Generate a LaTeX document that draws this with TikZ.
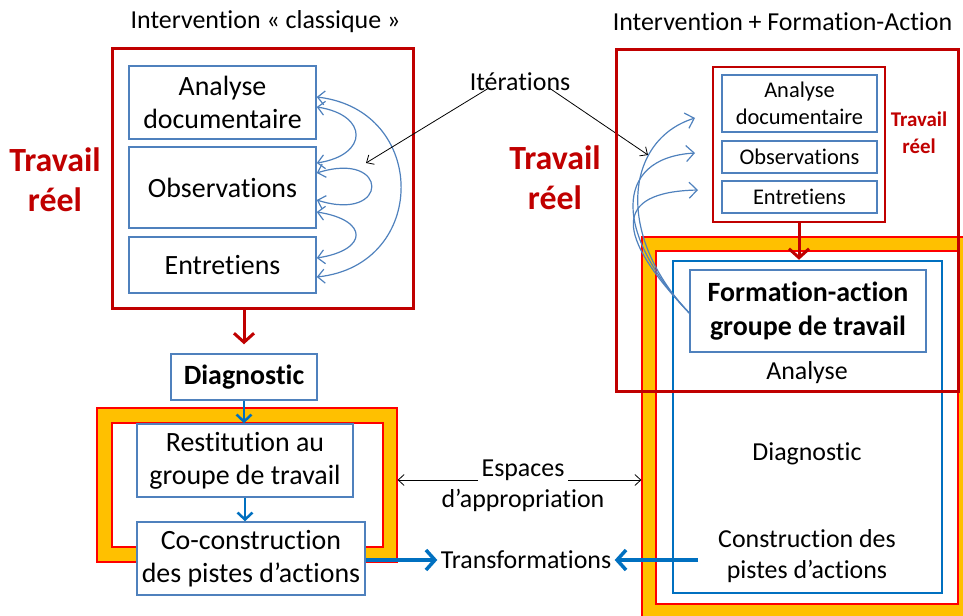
\documentclass[tikz,border=0pt]{standalone}
\usepackage{fontspec}
\setmainfont{Carlito}[Ligatures=NoCommon]
\usetikzlibrary{arrows.meta}
\definecolor{rouge}{HTML}{C00000}
\definecolor{bleu}{HTML}{4F81BD}
\definecolor{bleufonce}{HTML}{0070C0}
\definecolor{jaune}{HTML}{FFC000}
\tikzset{
  boite/.style={draw=bleu,line width=1.5bp,fill=white,align=center,inner sep=0pt},
  grand/.style={font=\fontsize{28}{33}\selectfont},
  moyen/.style={font=\fontsize{26}{31}\selectfont,align=center},
  petit/.style={font=\fontsize{22.5}{27}\selectfont},
  reel/.style={text=rouge,align=center,font=\bfseries\fontsize{34}{40}\selectfont},
  cadre/.style={draw=rouge,line width=3bp,inner sep=0pt},
  appro/.style={draw=red,line width=1.2bp,inner sep=0pt},
  iter/.style={draw=bleu,line width=1.2bp,<->,>={Straight Barb[length=7bp,width=14bp]}},
  fleche/.style={-{Straight Barb[length=6bp,width=11bp]},line width=0.8bp},
  rfleche/.style={rouge,line width=3bp,-{Straight Barb[length=9bp,width=20bp]}},
  bfleche/.style={bleufonce,line width=2.5bp,-{Straight Barb[length=7bp,width=15bp]}},
}
\begin{document}
\begin{tikzpicture}
\useasboundingbox (0bp,0bp) rectangle (963bp,-616bp);

% titres
\node (T1) at (265.5bp,-22bp)[font=\fontsize{26}{31}\selectfont] {Intervention « classique »};
\node (T2) at (782.5bp,-22bp)[font=\fontsize{26}{31}\selectfont] {Intervention + Formation-Action};

% intervention classique
\node (LReel) at (262.5bp,-178bp)[cadre,minimum width=301bp,minimum height=260bp] {};
\node (LAna) at (222.5bp,-102.5bp)[boite,grand,minimum width=187bp,minimum height=73bp] {Analyse\\documentaire};
\node (LObs) at (222.5bp,-187.5bp)[boite,grand,minimum width=187bp,minimum height=81bp] {Observations};
\node (LEnt) at (222.5bp,-265bp)[boite,grand,minimum width=187bp,minimum height=56bp] {Entretiens};
\node (LTrav) at (55bp,-180bp)[reel] {Travail\\réel};
\draw [iter] ([yshift=5.5bp]LAna.east) .. controls +(112bp,-13bp) and +(112bp,12bp) .. ([yshift=-12bp]LEnt.east);
\draw [iter] ([yshift=-4.5bp]LAna.east) .. controls +(52bp,-8bp) and +(52bp,8bp) .. ([yshift=24.5bp]LObs.east);
\draw [iter] ([yshift=14.5bp]LObs.east) .. controls +(73bp,23bp) and +(73bp,-23bp) .. ([yshift=-12.5bp]LObs.east);
\draw [iter] ([yshift=-24.5bp]LObs.east) .. controls +(52bp,-8bp) and +(52bp,8bp) .. ([yshift=7bp]LEnt.east);

\node (Diag) at (244bp,-377bp)[boite,font=\bfseries\fontsize{28}{33}\selectfont,minimum width=146bp,minimum height=46bp] {Diagnostic};
\draw [rfleche,shorten >=9bp] (LReel.south -| Diag.north) -- (Diag.north);

\node (LApp) at (247bp,-485bp)[appro,fill=jaune,minimum width=300bp,minimum height=154bp] {};
\node (LAppIn) at (247.5bp,-485bp)[appro,fill=white,minimum width=271bp,minimum height=124bp] {};
\node (Rest) at (245bp,-460.5bp)[boite,grand,minimum width=216bp,minimum height=73bp] {Restitution au\\groupe de travail};
\node (Coco) at (251bp,-558.5bp)[boite,grand,minimum width=228bp,minimum height=73bp] {Co-construction\\des pistes d’actions};
\draw [bfleche] (Diag.south) -- (Diag.south |- Rest.north);
\draw [bfleche] (Rest.south) -- (Rest.south |- Coco.north);

% milieu
\node (It) at (520bp,-82bp)[moyen] {Itérations};
\coordinate (ItG) at (366bp,-163bp);
\coordinate (ItD) at (648bp,-155bp);
\draw [fleche] ([xshift=-32bp,yshift=6bp]It.south) -- (ItG);
\draw [fleche] ([xshift=30bp,yshift=6bp]It.south) -- (ItD);

\node (EspA) at (523bp,-470bp)[moyen] {Espaces};
\node (EspB) at (523bp,-500bp)[moyen] {d’appropriation};
\node (Trans) at (526bp,-560bp)[moyen] {Transformations};

% intervention + formation-action
\node (RApp) at (808.5bp,-433.5bp)[appro,fill=jaune,minimum width=333bp,minimum height=393bp] {};
\node (RAppIn) at (807bp,-427.5bp)[appro,fill=white,minimum width=302bp,minimum height=353bp] {};
\node (RBox) at (807.5bp,-427bp)[draw=bleufonce,line width=2.5bp,minimum width=269bp,minimum height=332bp] {};
\node (Form) at (808bp,-311bp)[boite,font=\bfseries\fontsize{28}{34}\selectfont,minimum width=236bp,minimum height=82bp] {Formation-action\\groupe de travail};
\node (RAnal) at (807bp,-373bp)[moyen] {Analyse};
\node (RDiag) at (807bp,-454bp)[moyen] {Diagnostic};
\node (Constr) at (807bp,-556bp)[moyen] {Construction des\\pistes d’actions};

\node (RReel) at (787bp,-220bp)[cadre,minimum width=342bp,minimum height=342bp] {};
\node (RIn) at (799bp,-144.5bp)[draw=rouge,line width=2.2bp,minimum width=172bp,minimum height=155bp] {};
\node (RAna) at (799.5bp,-103.5bp)[boite,petit,minimum width=155bp,minimum height=57bp] {Analyse\\documentaire};
\node (RObs) at (799.5bp,-157bp)[boite,petit,minimum width=155bp,minimum height=32bp] {Observations};
\node (REnt) at (799.5bp,-197bp)[boite,petit,minimum width=155bp,minimum height=32bp] {Entretiens};
\node (RTravP) at (919bp,-133bp)[text=rouge,align=center,font=\bfseries\fontsize{21}{27}\selectfont] {Travail\\réel};
\node (RTrav) at (555bp,-178bp)[reel] {Travail\\réel};
\draw [rfleche] (RIn.south) -- (RIn.south |- RBox.north);

\coordinate (It1) at (695bp,-118bp);
\coordinate (It2) at (695bp,-153bp);
\coordinate (It3) at (698bp,-190bp);
\draw [bleu,line width=1.2bp,-{Straight Barb[length=8bp,width=16bp]}] ([yshift=-2bp]Form.west) .. controls (615bp,-235bp) and (625bp,-140bp) .. (It1);
\draw [bleu,line width=1.2bp,-{Straight Barb[length=8bp,width=16bp]}] ([yshift=-2bp]Form.west) .. controls (615bp,-235bp) and (612bp,-158bp) .. (It2);
\draw [bleu,line width=1.2bp,-{Straight Barb[length=8bp,width=16bp]}] ([yshift=-2bp]Form.west) .. controls (615bp,-235bp) and (612bp,-192bp) .. (It3);

% espaces et transformations
\coordinate (TrDep) at (698bp,-560bp);
\draw [fleche] ([yshift=-10bp]EspA.west) -- ([yshift=-10bp]EspA.west -| LApp.east);
\draw [fleche] ([yshift=-10bp]EspA.east) -- ([yshift=-10bp]EspA.east -| RApp.west);
\draw [bfleche,line width=3.5bp,-{Straight Barb[length=9bp,width=20bp]}] (Coco.east |- Trans) -- (Trans.west);
\draw [bfleche,line width=3.5bp,-{Straight Barb[length=9bp,width=20bp]}] (TrDep) -- (Trans.east);
\end{tikzpicture}
\end{document}
